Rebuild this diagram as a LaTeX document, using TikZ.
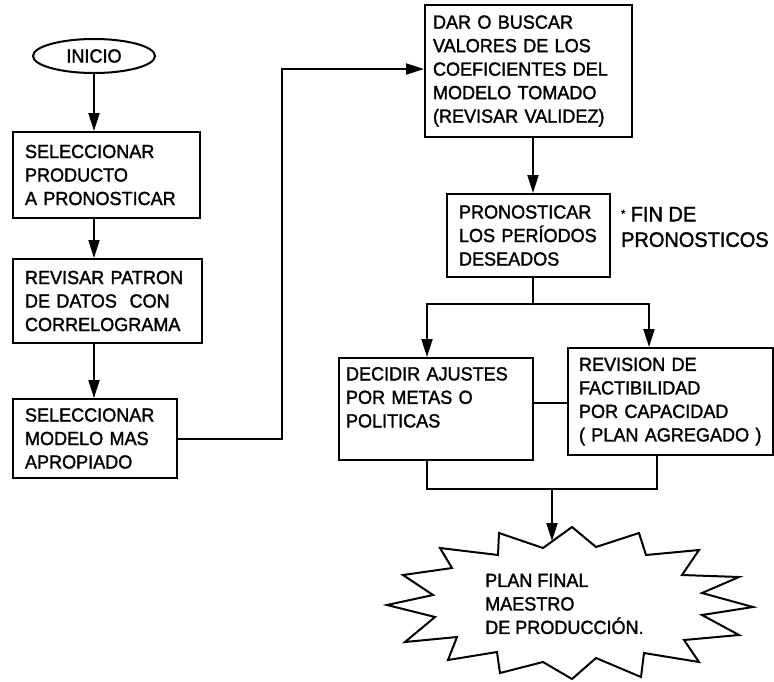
\documentclass[tikz,border=0pt]{standalone}
\usepackage{fontspec}
\setmainfont{Liberation Sans}
\newfontfamily\diagfont{Liberation Sans}[FakeBold=1.6, FakeStretch=0.95]
\usetikzlibrary{arrows.meta,shapes.geometric,calc}
\begin{document}
\begin{tikzpicture}[x=1pt,y=-1pt,
  every node/.style={font=\diagfont\fontsize{19}{23.5}\selectfont},
  stroke/.style={line width=2pt},
  box/.style={draw, stroke, rectangle, align=left, inner xsep=12pt, inner ysep=0pt},
  arr/.style={stroke, -{Triangle[length=18pt,width=11pt]}},
  dblarr/.style={stroke, {Triangle[length=18pt,width=11pt]}-{Triangle[length=18pt,width=11pt]}}]
\useasboundingbox (0,0) rectangle (774,681);

% helper coordinates for connector routing
\coordinate (xRoute) at (282,0);
\coordinate (yIn)    at (0,69);
\coordinate (x45)    at (533,0);
\coordinate (ySplit) at (0,304);
\coordinate (xL)     at (427,0);
\coordinate (xR1)    at (649,0);
\coordinate (xR2)    at (657,0);
\coordinate (y67)    at (0,403);
\coordinate (yMerge) at (0,489);
\coordinate (xM)     at (552,0);

% start terminal
\node[draw, stroke, ellipse, minimum width=122pt, minimum height=34pt, inner sep=0pt] (ini) at (94,56) {INICIO};

% left column
\node[box, text width=163pt, minimum height=86pt] (sel) at (106.5,175)
  {SELECCIONAR\\PRODUCTO\\A PRONOSTICAR};
\node[box, text width=165pt, minimum height=84pt] (rev) at (107.5,301)
  {REVISAR PATRON\\DE DATOS\ \ CON\\CORRELOGRAMA};
\node[box, text width=140pt, minimum height=79pt] (mod) at (95,438.5)
  {SELECCIONAR\\MODELO MAS\\APROPIADO};

% right column
\node[box, inner xsep=8pt, text width=191pt, minimum height=132pt] (coef) at (528.5,71)
  {DAR O BUSCAR\\VALORES DE LOS\\COEFICIENTES DEL\\MODELO TOMADO\\(REVISAR VALIDEZ)};
\node[box, text width=139pt, minimum height=83pt] (pron) at (528.5,235.5)
  {PRONOSTICAR\\LOS PERÍODOS\\DESEADOS};
\node[align=left, inner sep=0pt, anchor=west, font=\diagfont\fontsize{21}{25.5}\selectfont] (fin) at (621,227)
  {\raisebox{4pt}{\fontsize{11}{11}\selectfont*} FIN DE\\PRONOSTICOS};

\node[box, inner xsep=7pt, text width=180pt, minimum height=102pt] (dec) at (436,409)
  {DECIDIR AJUSTES\\POR METAS O\\POLITICAS\\~};
\node[box, inner xsep=11pt, text width=183pt, minimum height=107pt] (fac) at (670.5,401.5)
  {REVISION DE\\FACTIBILIDAD\\POR CAPACIDAD\\( PLAN AGREGADO )};

% final burst
\draw[stroke] (387,605) -- (433,595) -- (403,575) -- (452,568) -- (440,548)
  -- (498,555) -- (499,533) -- (543,548) -- (572,527) -- (596,547)
  -- (639,533) -- (646,555) -- (699,550) -- (682,575) -- (739,577)
  -- (702,593) -- (753,607) -- (702,615) -- (739,635) -- (684,640)
  -- (699,662) -- (644,653) -- (641,677) -- (596,658) -- (572,679)
  -- (543,662) -- (500,673) -- (497,652) -- (448,660) -- (457,637)
  -- (405,642) -- (435,617) -- cycle;
\coordinate (startop) at (552,541);
\node[align=left, inner sep=0pt, anchor=west] (plan) at (485,604)
  {PLAN FINAL\\MAESTRO\\DE PRODUCCIÓN.};

% connectors
\draw[arr] (ini.south) -- (sel.north -| ini.south);
\draw[arr] (sel.south -| ini.south) -- (rev.north -| ini.south);
\draw[arr] (rev.south -| ini.south) -- (mod.north -| ini.south);
\draw[arr] (mod.east) -| (xRoute |- yIn) -- (coef.west |- yIn);
\draw[arr] (coef.south -| x45) -- (pron.north -| x45);
\draw[stroke] (pron.south -| x45) -- (x45 |- ySplit);
\draw[dblarr] (dec.north -| xL) |- (xR1 |- ySplit) -- (fac.north -| xR1);
\draw[stroke] (dec.east |- y67) -- (fac.west |- y67);
\draw[stroke] (dec.south -| xL) |- (xR2 |- yMerge) -- (fac.south -| xR2);
\draw[arr] (xM |- yMerge) -- (startop);
\end{tikzpicture}
\end{document}
